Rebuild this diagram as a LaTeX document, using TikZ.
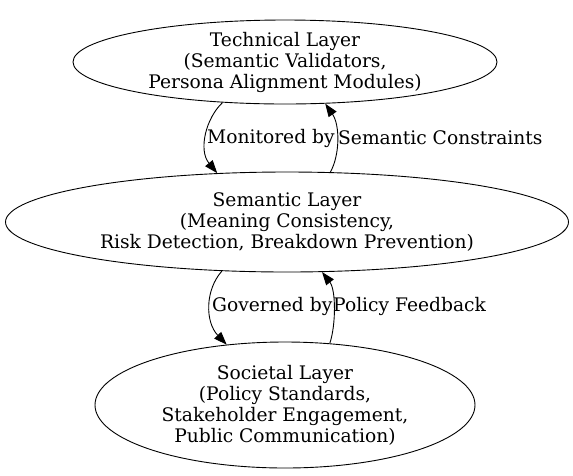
\documentclass[tikz,border=0pt]{standalone}
\usepackage{fontspec}
\setmainfont{DejaVu Serif}
\usetikzlibrary{shapes.geometric,arrows.meta}
\tikzset{
  layer/.style={ellipse, draw, line width=0.9pt, inner sep=0pt},
  txt/.style={align=center, font=\fontsize{18.67}{21}\selectfont, inner sep=0pt},
  lbl/.style={font=\fontsize{18.67}{21}\selectfont, inner sep=0pt},
  edge/.style={line width=0.9pt, -{Triangle[length=13pt,width=9.5pt]}}
}
\begin{document}
\begin{tikzpicture}[x=1pt,y=-1pt]
\useasboundingbox (0,0) rectangle (573,475);
\node[layer, minimum width=424pt, minimum height=84pt] (t) at (285,62) {};
\node[txt] (tt) at (t) {Technical Layer\\(Semantic Validators,\\Persona Alignment Modules)};
\node[layer, minimum width=563pt, minimum height=100pt] (m) at (287,222) {};
\node[txt] (mt) at (m) {Semantic Layer\\(Meaning Consistency,\\Risk Detection, Breakdown Prevention)};
\node[layer, minimum width=380pt, minimum height=126pt] (b) at (285,405) {};
\node[txt] (bt) at (b) {Societal Layer\\(Policy Standards,\\Stakeholder Engagement,\\Public Communication)};
\draw[edge] (t.213.5) .. controls (206,118) and (198,150) .. (m.145);
\draw[edge] (m.49.4) .. controls (340,155) and (340,125) .. (t.314.3);
\draw[edge] (m.217.6) .. controls (205,290) and (205,322) .. (b.134);
\draw[edge] (b.54.6) .. controls (336,325) and (336,290) .. (m.305.8);
\node[lbl, anchor=west] (l1) at (207,138) {Monitored by};
\node[lbl, anchor=west] (l2) at (338,138) {Semantic Constraints};
\node[lbl, anchor=west] (l3) at (212,306) {Governed by};
\node[lbl, anchor=west] (l4) at (333,306) {Policy Feedback};
\end{tikzpicture}
\end{document}
